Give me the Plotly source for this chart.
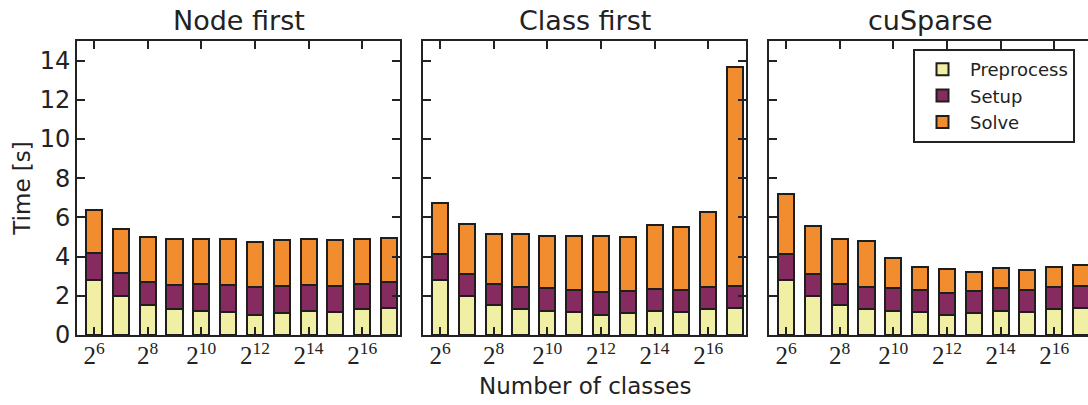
import plotly.graph_objects as go

exponents = [6, 7, 8, 9, 10, 11, 12, 13, 14, 15, 16, 17]
panel_titles = ["Node first", "Class first", "cuSparse"]
series_names = ["Preprocess", "Setup", "Solve"]

# Preprocess time (s)
preprocess = [2.80, 1.97, 1.52, 1.32, 1.23, 1.15, 1.03, 1.11, 1.23, 1.15, 1.32, 1.39]

# Setup times (s)
setup_node = [1.38, 1.20, 1.18, 1.25, 1.39, 1.38, 1.40, 1.37, 1.34, 1.35, 1.30, 1.31]
setup_class = [1.35, 1.14, 1.10, 1.14, 1.17, 1.16, 1.14, 1.15, 1.13, 1.14, 1.11, 1.09]
setup_cusparse = [1.35, 1.14, 1.10, 1.13, 1.15, 1.14, 1.13, 1.15, 1.15, 1.14, 1.11, 1.09]

# Solve times (s)
solve_node = [2.18, 2.22, 2.28, 2.34, 2.29, 2.35, 2.33, 2.35, 2.34, 2.33, 2.26, 2.23]
solve_class = [2.58, 2.54, 2.51, 2.71, 2.63, 2.72, 2.88, 2.72, 3.25, 3.22, 3.83, 11.19]
solve_cusparse = [3.03, 2.47, 2.27, 2.34, 1.54, 1.17, 1.21, 0.96, 1.03, 1.05, 1.06, 1.11]

panels = [
    (preprocess, setup_node, solve_node),
    (preprocess, setup_class, solve_class),
    (preprocess, setup_cusparse, solve_cusparse),
]

colors = ["#F1EFA4", "#862B60", "#F18D2E"]
edge = "#1e1e1e"

W, H = 1088, 405
L, R, T, B = 77, 0, 41, 70
pw = W - L - R
px_left = [77, 423, 769]
px_right = [400, 746, 1088]
domains = [[(a - L) / pw, (b - L) / pw] for a, b in zip(px_left, px_right)]

x_pos = list(range(len(exponents)))
tick_idx = [0, 2, 4, 6, 8, 10]
tick_text = [f"2<sup>{exponents[i]}</sup>" for i in tick_idx]

unit_px = (389 - 94) / 11.0
x_lo = -(94 - 77) / unit_px
x_hi_full = 11 + (400 - 389) / unit_px
x_hi_last = 11 + (1088 - (769 + 389 - 77)) / unit_px

fig = go.Figure()
for p, vals in enumerate(panels):
    for s, (name, col) in enumerate(zip(series_names, colors)):
        fig.add_trace(go.Bar(
            x=x_pos, y=vals[s], name=name,
            marker=dict(color=col, line=dict(color=edge, width=2)),
            xaxis="x" if p == 0 else f"x{p+1}",
            yaxis="y" if p == 0 else f"y{p+1}",
            showlegend=(p == 2),
            legendrank=s,
        ))

axis_font = dict(family="DejaVu Sans", size=24, color="#222")
label_font = dict(family="DejaVu Sans", size=23, color="#222")
for p in range(3):
    xk = "xaxis" if p == 0 else f"xaxis{p+1}"
    yk = "yaxis" if p == 0 else f"yaxis{p+1}"
    fig.layout[xk] = dict(
        domain=domains[p], anchor="y" if p == 0 else f"y{p+1}",
        range=[x_lo, x_hi_last if p == 2 else x_hi_full],
        tickvals=tick_idx, ticktext=tick_text,
        tickfont=dict(family="Liberation Serif", size=25, color="#222"),
        ticks="inside", ticklen=8, tickwidth=1.5, tickcolor="#222",
        ticklabelstandoff=-3,
        showline=True, linecolor="#222", linewidth=2, mirror="ticks",
        showgrid=False, zeroline=False, automargin=False,
    )
    fig.layout[yk] = dict(
        domain=[0, 1], anchor="x" if p == 0 else f"x{p+1}",
        range=[0, 15], tickvals=list(range(0, 15, 2)),
        showticklabels=(p == 0), tickfont=axis_font,
        ticks="inside", ticklen=8, tickwidth=1.5, tickcolor="#222",
        showline=True, linecolor="#222", linewidth=2,
        mirror=("ticks" if p < 2 else False),
        showgrid=False, zeroline=False, automargin=False,
    )

fig.layout.yaxis.title = dict(text="Time [s]", font=label_font, standoff=3)

annotations = []
centers = [(a + b) / 2 for a, b in zip(px_left, [400, 746, 1092])]
for c, t in zip(centers, panel_titles):
    annotations.append(dict(
        text=t, x=(c - L) / pw, y=1.0, xref="paper", yref="paper",
        xanchor="center", yanchor="bottom", yshift=3, showarrow=False,
        font=dict(family="DejaVu Sans", size=27, color="#222"),
    ))
annotations.append(dict(
    text="Number of classes", x=(585 - L) / pw, y=0, xref="paper", yref="paper",
    xanchor="center", yanchor="top", yshift=-36, showarrow=False,
    font=label_font,
))

fig.update_layout(
    width=W, height=H,
    margin=dict(l=L, r=R, t=T, b=B),
    barmode="stack", bargap=0.4,
    plot_bgcolor="white", paper_bgcolor="white",
    annotations=annotations,
    legend=dict(
        x=(913 - L) / pw, y=(335 - 49) / 294, xanchor="left", yanchor="top",
        bgcolor="white", bordercolor="#222", borderwidth=2,
        font=dict(family="DejaVu Sans", size=18, color="#222"),
        traceorder="normal", itemwidth=45,
    ),
)

fig.write_html("out.html", config={"displayModeBar": False},
               post_script="document.body.style.margin='0';")
